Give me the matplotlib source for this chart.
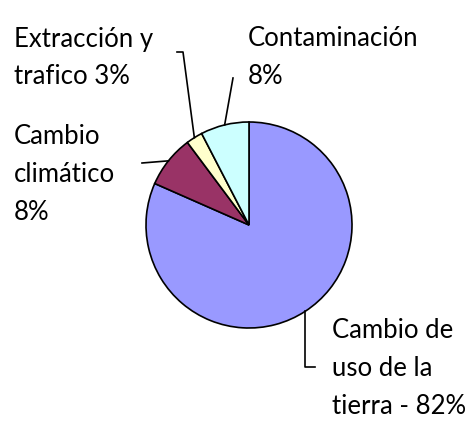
import numpy as np
import matplotlib
matplotlib.use("Agg")
import matplotlib.pyplot as plt

# Datos del gráfico (Excel: sentido horario desde las 12)
categorias = ["Cambio de\nuso de la\ntierra - 82%", "Cambio\nclimático\n8%",
              "Extracción y\ntrafico 3%", "Contaminación\n8%"]
valores = [81.6, 8.2, 2.6, 7.6]
colores = ["#9999FF", "#993366", "#FFFFCC", "#CCFFFF"]

# posiciones de las etiquetas (en píxeles, y hacia arriba) y codos de las líneas guía
pos_texto = [(332, 421 - 368), (14, 421 - 175), (14, 421 - 58), (248, 421 - 58)]
codos = [[(None, 54), (315, 54)],
         [(142, 258)],
         [(183, 369), (177, 369)],
         [(233, 343)]]

plt.rcParams['font.family'] = ['Lato', 'DejaVu Sans']

fig = plt.figure(figsize=(4.72, 4.21), dpi=100)
ax = fig.add_axes([0, 0, 1, 1])

centro = (249, 196)
radio = 103
wedges, _ = ax.pie(valores, colors=colores, startangle=90, counterclock=False,
                   center=centro, radius=radio,
                   wedgeprops=dict(edgecolor="black", linewidth=1.2))

for w, txt, (tx, ty), codo in zip(wedges, categorias, pos_texto, codos):
    ang = np.deg2rad((w.theta1 + w.theta2) / 2)
    x0 = centro[0] + radio * np.cos(ang)
    y0 = centro[1] + radio * np.sin(ang)
    xs, ys = [x0], [y0]
    for px, py in codo:
        xs.append(x0 if px is None else px)
        ys.append(py)
    ax.plot(xs, ys, color="black", linewidth=1.2)
    ax.text(tx, ty, txt, ha="left", va="center", fontsize=18.5,
            linespacing=1.65, color="black")

ax.set_xlim(0, 472)
ax.set_ylim(0, 421)
ax.set_aspect("equal")
ax.axis("off")

fig.savefig("out.png", dpi=100, facecolor="white")
